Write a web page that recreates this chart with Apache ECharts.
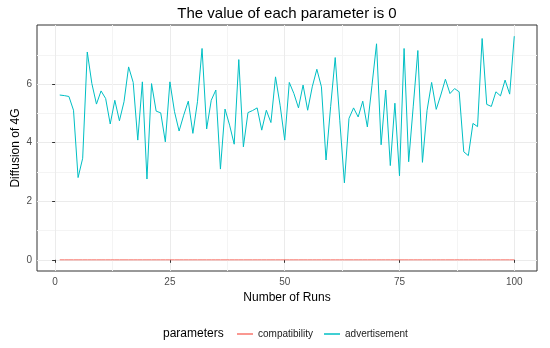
<!DOCTYPE html>
<html><head><meta charset="utf-8">
<script src="https://cdn.jsdelivr.net/npm/echarts@6/dist/echarts.min.js"></script>
<style>html,body{margin:0;padding:0;background:#fff}#c{width:550px;height:348px}</style>
</head><body><div id="c"></div>
<script>
const runs = [1,2,3,4,5,6,7,8,9,10,11,12,13,14,15,16,17,18,19,20,21,22,23,24,25,26,27,28,29,30,31,32,33,34,35,36,37,38,39,40,41,42,43,44,45,46,47,48,49,50,51,52,53,54,55,56,57,58,59,60,61,62,63,64,65,66,67,68,69,70,71,72,73,74,75,76,77,78,79,80,81,82,83,84,85,86,87,88,89,90,91,92,93,94,95,96,97,98,99,100];
const compatibility = [0,0,0,0,0,0,0,0,0,0,0,0,0,0,0,0,0,0,0,0,0,0,0,0,0,0,0,0,0,0,0,0,0,0,0,0,0,0,0,0,0,0,0,0,0,0,0,0,0,0,0,0,0,0,0,0,0,0,0,0,0,0,0,0,0,0,0,0,0,0,0,0,0,0,0,0,0,0,0,0,0,0,0,0,0,0,0,0,0,0,0,0,0,0,0,0,0,0,0,0];
const advertisement = [
5.63,5.61,5.58,5.11,2.81,3.47,7.10,6.02,5.32,5.77,
5.51,4.64,5.45,4.75,5.40,6.59,6.06,4.09,6.08,2.76,
6.02,5.08,5.02,4.03,6.08,5.06,4.40,4.94,5.42,4.32,
5.40,7.22,4.47,5.45,5.80,3.10,5.15,4.60,3.95,6.84,
3.86,5.03,5.10,5.19,4.43,5.11,4.69,6.25,5.28,4.09,
6.06,5.68,5.19,5.97,5.11,5.91,6.51,5.91,3.41,5.23,
6.91,4.75,2.63,4.83,5.19,4.88,5.42,4.54,5.95,7.38,
3.93,5.80,3.22,5.35,2.87,7.22,3.35,5.25,7.15,3.33,
5.10,6.06,5.14,5.63,6.17,5.68,5.85,5.74,3.69,3.56,
4.66,4.55,7.56,5.31,5.24,5.74,5.60,6.14,5.66,7.64];
const seriesNames = ['compatibility','advertisement'];
const xTicks = [0,25,50,75,100];
const xMinorTicks = [12.5,37.5,62.5,87.5];
const yTicks = [0,2,4,6];
const yMinorTicks = [1,3,5,7];

const FONT = 'Liberation Sans, Arial, sans-serif';
const chart = echarts.init(document.getElementById('c'), null, {renderer:'canvas'});
chart.setOption({
  animation:false,
  backgroundColor:'#ffffff',
  textStyle:{fontFamily:FONT},
  title:[
    {text:'The value of each parameter is 0', left:282, textAlign:'center', top:1,
     textStyle:{fontSize:15, fontWeight:'normal', color:'#000', fontFamily:FONT}},
    {text:'parameters', left:158, top:323,
     textStyle:{fontSize:12, fontWeight:'normal', color:'#000', fontFamily:FONT}}
  ],
  legend:{
    data:seriesNames, left:232, top:324, itemWidth:16, itemHeight:1.5, itemGap:11, icon:'rect',
    textStyle:{fontSize:10, color:'#1a1a1a', fontFamily:FONT}
  },
  grid:{left:37, right:13, top:25, bottom:77, show:true, borderColor:'#333333', borderWidth:1,
        containLabel:false, outerBoundsMode:'none'},
  xAxis:[
    {type:'value', min:-3.95, max:104.95, position:'bottom',
     axisLine:{show:false},
     axisTick:{show:true, customValues:xTicks, length:3, lineStyle:{color:'#333333'}},
     axisLabel:{customValues:xTicks, color:'#4d4d4d', fontSize:10, margin:6, fontFamily:FONT},
     splitLine:{show:true, customValues:xTicks, lineStyle:{color:'#ebebeb', width:1}},
     name:'Number of Runs', nameLocation:'middle', nameGap:21,
     nameTextStyle:{fontSize:12, color:'#000', fontFamily:FONT}},
    {type:'value', min:-3.95, max:104.95, position:'top',
     axisLine:{show:false},
     axisTick:{show:false, customValues:xMinorTicks},
     axisLabel:{show:false, customValues:xMinorTicks},
     splitLine:{show:true, customValues:xMinorTicks, lineStyle:{color:'#f4f4f4', width:1}}}
  ],
  yAxis:[
    {type:'value', min:-0.382, max:8.022, position:'left',
     axisLine:{show:false},
     axisTick:{show:true, customValues:yTicks, length:3, lineStyle:{color:'#333333'}},
     axisLabel:{customValues:yTicks, color:'#4d4d4d', fontSize:10, margin:5, fontFamily:FONT},
     splitLine:{show:true, customValues:yTicks, lineStyle:{color:'#ebebeb', width:1}},
     name:'Diffusion of 4G', nameLocation:'middle', nameGap:15, nameMoveOverlap:false,
     nameTextStyle:{fontSize:12, color:'#000', fontFamily:FONT}},
    {type:'value', min:-0.382, max:8.022, position:'right',
     axisLine:{show:false},
     axisTick:{show:false, customValues:yMinorTicks},
     axisLabel:{show:false, customValues:yMinorTicks},
     splitLine:{show:true, customValues:yMinorTicks, lineStyle:{color:'#f4f4f4', width:1}}}
  ],
  series:[
    {name:seriesNames[0], type:'line', xAxisIndex:0, yAxisIndex:0, showSymbol:false, symbol:'none',
     data:runs.map((r,i)=>[r, compatibility[i]]), lineStyle:{color:'#F8766D', width:1}, itemStyle:{color:'#F8766D'}, z:3},
    {name:seriesNames[1], type:'line', xAxisIndex:0, yAxisIndex:0, showSymbol:false, symbol:'none',
     data:runs.map((r,i)=>[r, advertisement[i]]), lineStyle:{color:'#00BFC4', width:1}, itemStyle:{color:'#00BFC4'}, z:4}
  ]
});
</script></body></html>
